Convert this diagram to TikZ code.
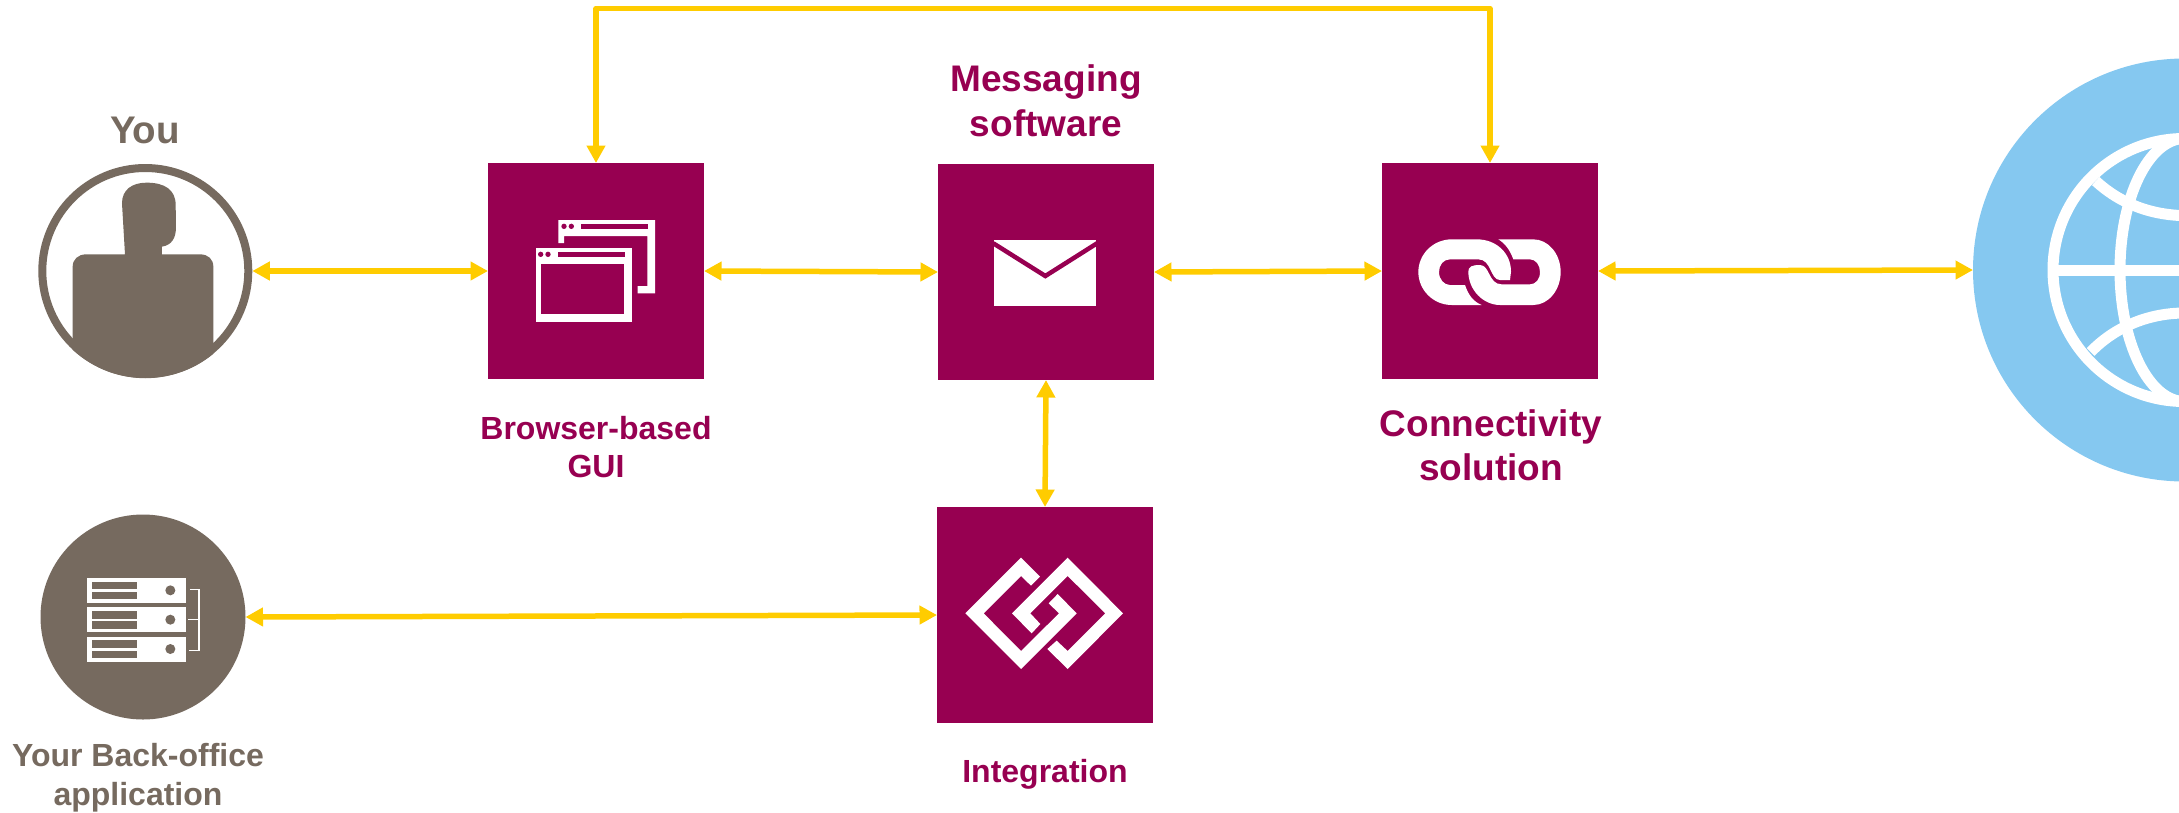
\documentclass[tikz,border=0pt]{standalone}
\usepackage{fontspec}
\setmainfont{Liberation Sans}
\usetikzlibrary{arrows.meta}
\definecolor{plum}{HTML}{970051}
\definecolor{taupe}{HTML}{766A5F}
\definecolor{amber}{HTML}{FFCC00}
\definecolor{sky}{HTML}{85C8F0}
\tikzset{
  x=1pt,y=-1pt,
  box/.style={fill=plum,minimum size=216pt,inner sep=0pt,outer sep=0pt,draw=none},
  link/.style={draw=amber,line width=5.5pt,line join=round,{Triangle[length=17.5pt,width=18pt]}-{Triangle[length=17.5pt,width=18pt]}},
  zoomed/.style={x=0.33333pt,y=-0.33333pt},
  lab/.style={font=\bfseries\fontsize{32}{38.5}\selectfont,text=plum,align=center,inner sep=0pt},
  labbig/.style={font=\bfseries\fontsize{37}{44.5}\selectfont,text=plum,align=center,inner sep=0pt},
}
\begin{document}
\begin{tikzpicture}
\clip (0,0) rectangle (2179,812);
% round end nodes
\node[circle,draw=taupe,line width=8pt,fill=white,minimum size=206pt,inner sep=0pt] (you) at (145.3,271) {};
\node[circle,fill=taupe,minimum size=205pt,inner sep=0pt,outer sep=0pt] (back) at (143,617) {};
\node[circle,fill=sky,minimum size=423pt,inner sep=0pt,outer sep=0pt] (net) at (2184.5,270) {};
% squares
\node[box] (gui) at (596,271) {};
\node[box] (msg) at (1046,272) {};
\node[box] (conn) at (1490,271) {};
\node[box] (integ) at (1045,615) {};
\coordinate (rail) at (1043,8.5);
% connectors
\path[link] (you.east) -- (gui.west);
\path[link] (gui.east) -- (msg.west);
\path[link] (msg.east) -- (conn.west);
\path[link] (conn.east) -- (net.west);
\path[link] (msg.south) -- (integ.north);
\path[link] (back.east) -- (integ.west);
\path[link] (gui.north) |- (rail) -| (conn.north);
% person
\begin{scope}[shift={(0,100)},zoomed]
\clip (436,513.5) circle (321);
\fill[taupe] (218,900) -- (218,500) .. controls (218,478) and (235,463) .. (258,463)
 -- (375,463) -- (366,310) .. controls (366,270) and (395,248) .. (440,248)
 .. controls (495,248) and (527,270) .. (527,315) -- (528,380) .. controls (528,415) and (515,435) .. (486,440)
 -- (486,463) -- (600,463) .. controls (625,463) and (640,478) .. (640,500) -- (640,900) -- cycle;
\end{scope}
% server icon
\begin{scope}[shift={(0,500)},zoomed]
\foreach \d in {0,88,176}{
  \fill[white] (262,234+\d) rectangle (559,309+\d);
  \fill[taupe] (277,245+\d) rectangle (412,268+\d);
  \fill[taupe] (277,276+\d) rectangle (412,298+\d);
  \fill[taupe] (511,271+\d) circle (15);
}
\draw[white,line width=1.3pt] (570,269) -- (597,269) -- (597,452) -- (567,452) (565,359) -- (597,359);
\end{scope}
% browser icon
\begin{scope}[shift={(470,140)},zoomed]
\fill[white] (265,240) -- (555,240) -- (555,460) -- (503,460) -- (503,438) -- (532,438) -- (532,288) -- (282,288) -- (282,309) -- (265,309) -- cycle;
\fill[plum] (332,252) rectangle (535,266);
\fill[plum] (282,259) circle (8) (304,259) circle (8);
\fill[white] (197,323) rectangle (485,545);
\fill[plum] (213,372) rectangle (463,523);
\fill[plum] (263,337) rectangle (465,350);
\fill[plum] (212,343) circle (8) (234,343) circle (8);
\end{scope}
% envelope icon
\begin{scope}[shift={(920,140)},zoomed]
\fill[white] (223,301) rectangle (528,499);
\draw[plum,line width=4.5pt] (220,310) -- (376,408) -- (531,310);
\end{scope}
% chain icon
\begin{scope}[shift={(1370,140)},zoomed]
\fill[white] (335,495) -- (245,495) .. controls (190,495) and (145,450) .. (145,396)
 .. controls (145,342) and (190,298) .. (245,298) -- (320,298)
 .. controls (380,298) and (423,340) .. (423,395) -- (420,420) -- (390,420)
 .. controls (360,420) and (365,358) .. (325,358) -- (240,358)
 .. controls (220,358) and (207,375) .. (207,396) .. controls (207,418) and (222,435) .. (240,435) -- (285,435)
 .. controls (295,465) and (310,485) .. (335,495) -- cycle;
\fill[white] (385,298) -- (490,298) .. controls (535,298) and (572,342) .. (572,396)
 .. controls (572,450) and (535,495) .. (490,495) -- (390,495)
 .. controls (340,495) and (295,450) .. (295,395) .. controls (295,380) and (305,375) .. (330,375)
 .. controls (360,375) and (355,433) .. (395,433) -- (480,433)
 .. controls (497,433) and (510,418) .. (510,396) .. controls (510,375) and (497,358) .. (480,358) -- (430,358)
 .. controls (420,330) and (405,310) .. (385,298) -- cycle;
\end{scope}
% integration icon
\begin{scope}[shift={(920,500)},zoomed]
\fill[white] (303,173) -- (360,230) -- (333,257) -- (303,228) -- (191,340) -- (303,453) -- (417,340) -- (386,310) -- (413,282) -- (470,340) -- (303,507) -- (136,340) -- cycle;
\fill[white] (443,173) -- (609,340) -- (443,507) -- (382,447) -- (410,422) -- (443,453) -- (556,340) -- (443,228) -- (331,340) -- (361,372) -- (335,400) -- (276,340) -- cycle;
\end{scope}
% globe icon
\draw[white,line width=11pt] (net.center) circle (131.5);
\draw[white,line width=11pt] (net.center) ellipse (64.5 and 131.5);
\draw[white,line width=11pt] (2053,270) -- (2179,270);
\begin{scope}[shift={(1950,40)},zoomed]
\draw[white,line width=11pt] (437,423) .. controls (510,490) and (600,525) .. (705,527);
\draw[white,line width=11pt] (422,936) .. controls (490,865) and (590,819) .. (705,819);
\end{scope}
% labels
\node[font=\bfseries\fontsize{38.5}{38.5}\selectfont,text=taupe,inner sep=0pt,anchor=base] (lyou) at (145,143) {You};
\node[labbig] (lmsg) at (1046,101) {Messaging\\software};
\node[lab] (lgui) at (596,447) {Browser-based\\GUI};
\node[labbig] (lconn) at (1491,445.5) {Connectivity\\solution};
\node[lab,anchor=base] (lint) at (1045,782) {Integration};
\node[lab,text=taupe] (lback) at (138,777.5) {Your Back-office\\application};
\end{tikzpicture}
\end{document}
